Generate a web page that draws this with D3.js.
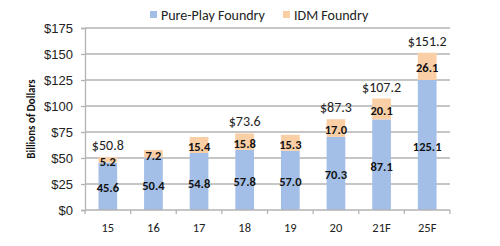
<!DOCTYPE html>
<html>
<head>
<meta charset="utf-8">
<script src="https://cdn.jsdelivr.net/npm/d3@7"></script>
<style>
  body { margin: 0; background: #fff; }
  svg { display: block; font-family: Calibri, Carlito, "Open Sans", sans-serif; }
</style>
</head>
<body>
<div id="chart"></div>
<script>
const years = ["15", "16", "17", "18", "19", "20", "21F", "25F"];
const purePlay = [45.6, 50.4, 54.8, 57.8, 57.0, 70.3, 87.1, 125.1];
const idm = [5.2, 7.2, 15.4, 15.8, 15.3, 17.0, 20.1, 26.1];
const totals = [50.8, 57.6, 70.2, 73.6, 72.3, 87.3, 107.2, 151.2];
const showTotal = [true, false, false, true, false, true, true, true];
const yTicks = [0, 25, 50, 75, 100, 125, 150, 175];

const width = 500, height = 246;
const margin = {top: 28, right: 50, bottom: 36, left: 85};
const blue = "#a3bfe7", peach = "#fbcfa6", grid = "#b3b3b3";

const svg = d3.select("#chart").append("svg")
    .attr("width", width).attr("height", height);

const x = d3.scaleBand().domain(years)
    .range([margin.left, width - margin.right]).paddingInner(0.59).paddingOuter(0.295);
const y = d3.scaleLinear().domain([0, 175]).range([height - margin.bottom, margin.top]);

// gridlines
svg.append("g").selectAll("line").data(yTicks.slice(1)).join("line")
    .attr("x1", margin.left).attr("x2", width - margin.right)
    .attr("y1", d => y(d)).attr("y2", d => y(d))
    .attr("stroke", grid).attr("stroke-width", 1.3);

// y axis
const yAxis = svg.append("g").attr("transform", `translate(${margin.left},0)`)
    .call(d3.axisLeft(y).tickValues(yTicks).tickSize(4).tickPadding(8).tickFormat(d => "$" + d));
yAxis.select(".domain").attr("stroke", grid).attr("stroke-width", 1.3);
yAxis.selectAll(".tick line").attr("stroke", grid).attr("stroke-width", 1.3);
yAxis.selectAll("text").attr("font-size", 13).attr("fill", "#222");

// bars
const g = svg.append("g");
g.selectAll(".pp").data(years).join("rect")
    .attr("x", d => x(d)).attr("width", x.bandwidth())
    .attr("y", (d, i) => y(purePlay[i]))
    .attr("height", (d, i) => y(0) - y(purePlay[i]))
    .attr("fill", blue);
g.selectAll(".idm").data(years).join("rect")
    .attr("x", d => x(d)).attr("width", x.bandwidth())
    .attr("y", (d, i) => y(purePlay[i] + idm[i]))
    .attr("height", (d, i) => y(purePlay[i]) - y(purePlay[i] + idm[i]))
    .attr("fill", peach);

// x axis
const xAxis = svg.append("g").attr("transform", `translate(0,${y(0)})`);
xAxis.append("line").attr("x1", margin.left).attr("x2", width - margin.right)
    .attr("stroke", grid).attr("stroke-width", 1.3);
xAxis.selectAll(".tk").data(d3.range(years.length + 1)).join("line")
    .attr("x1", i => margin.left + i * (width - margin.left - margin.right) / years.length)
    .attr("x2", i => margin.left + i * (width - margin.left - margin.right) / years.length)
    .attr("y1", 0).attr("y2", 4).attr("stroke", grid).attr("stroke-width", 1.3);
xAxis.selectAll("text").data(years).join("text")
    .attr("x", d => x(d) + x.bandwidth() / 2).attr("y", 22)
    .attr("text-anchor", "middle").attr("font-size", 12.5).attr("fill", "#222")
    .text(d => d);

// value labels
g.selectAll(".lp").data(years).join("text")
    .attr("x", d => x(d) + x.bandwidth() / 2)
    .attr("y", (d, i) => (y(0) + y(purePlay[i])) / 2 + 6)
    .attr("text-anchor", "middle").attr("font-size", 12.5).attr("font-weight", "bold")
    .attr("fill", "#111").text((d, i) => purePlay[i].toFixed(1));
g.selectAll(".li").data(years).join("text")
    .attr("x", d => x(d) + x.bandwidth() / 2)
    .attr("y", (d, i) => (y(purePlay[i]) + y(purePlay[i] + idm[i])) / 2 + 6)
    .attr("text-anchor", "middle").attr("font-size", 12.5).attr("font-weight", "bold")
    .attr("fill", "#111").text((d, i) => idm[i].toFixed(1));
g.selectAll(".lt").data(years.filter((d, i) => showTotal[i])).join("text")
    .attr("x", d => x(d) + x.bandwidth() / 2)
    .attr("y", d => y(totals[years.indexOf(d)]) - 7)
    .attr("text-anchor", "middle").attr("font-size", 14).attr("fill", "#222")
    .text(d => "$" + totals[years.indexOf(d)].toFixed(1));

// y title
svg.append("text")
    .attr("transform", `translate(35,${(y(0) + y(175)) / 2}) rotate(-90)`)
    .attr("text-anchor", "middle").attr("font-size", 11).attr("font-weight", "bold")
    .attr("fill", "#111").text("Billions of Dollars");

// legend
const legend = [["Pure-Play Foundry", blue, 150], ["IDM Foundry", peach, 283]];
const lg = svg.append("g").selectAll("g").data(legend).join("g")
    .attr("transform", d => `translate(${d[2]},0)`);
lg.append("rect").attr("x", 0).attr("y", 11).attr("width", 7).attr("height", 7).attr("fill", d => d[1]);
lg.append("text").attr("x", 11).attr("y", 20).attr("font-size", 14).attr("fill", "#222").text(d => d[0]);
</script>
</body>
</html>
